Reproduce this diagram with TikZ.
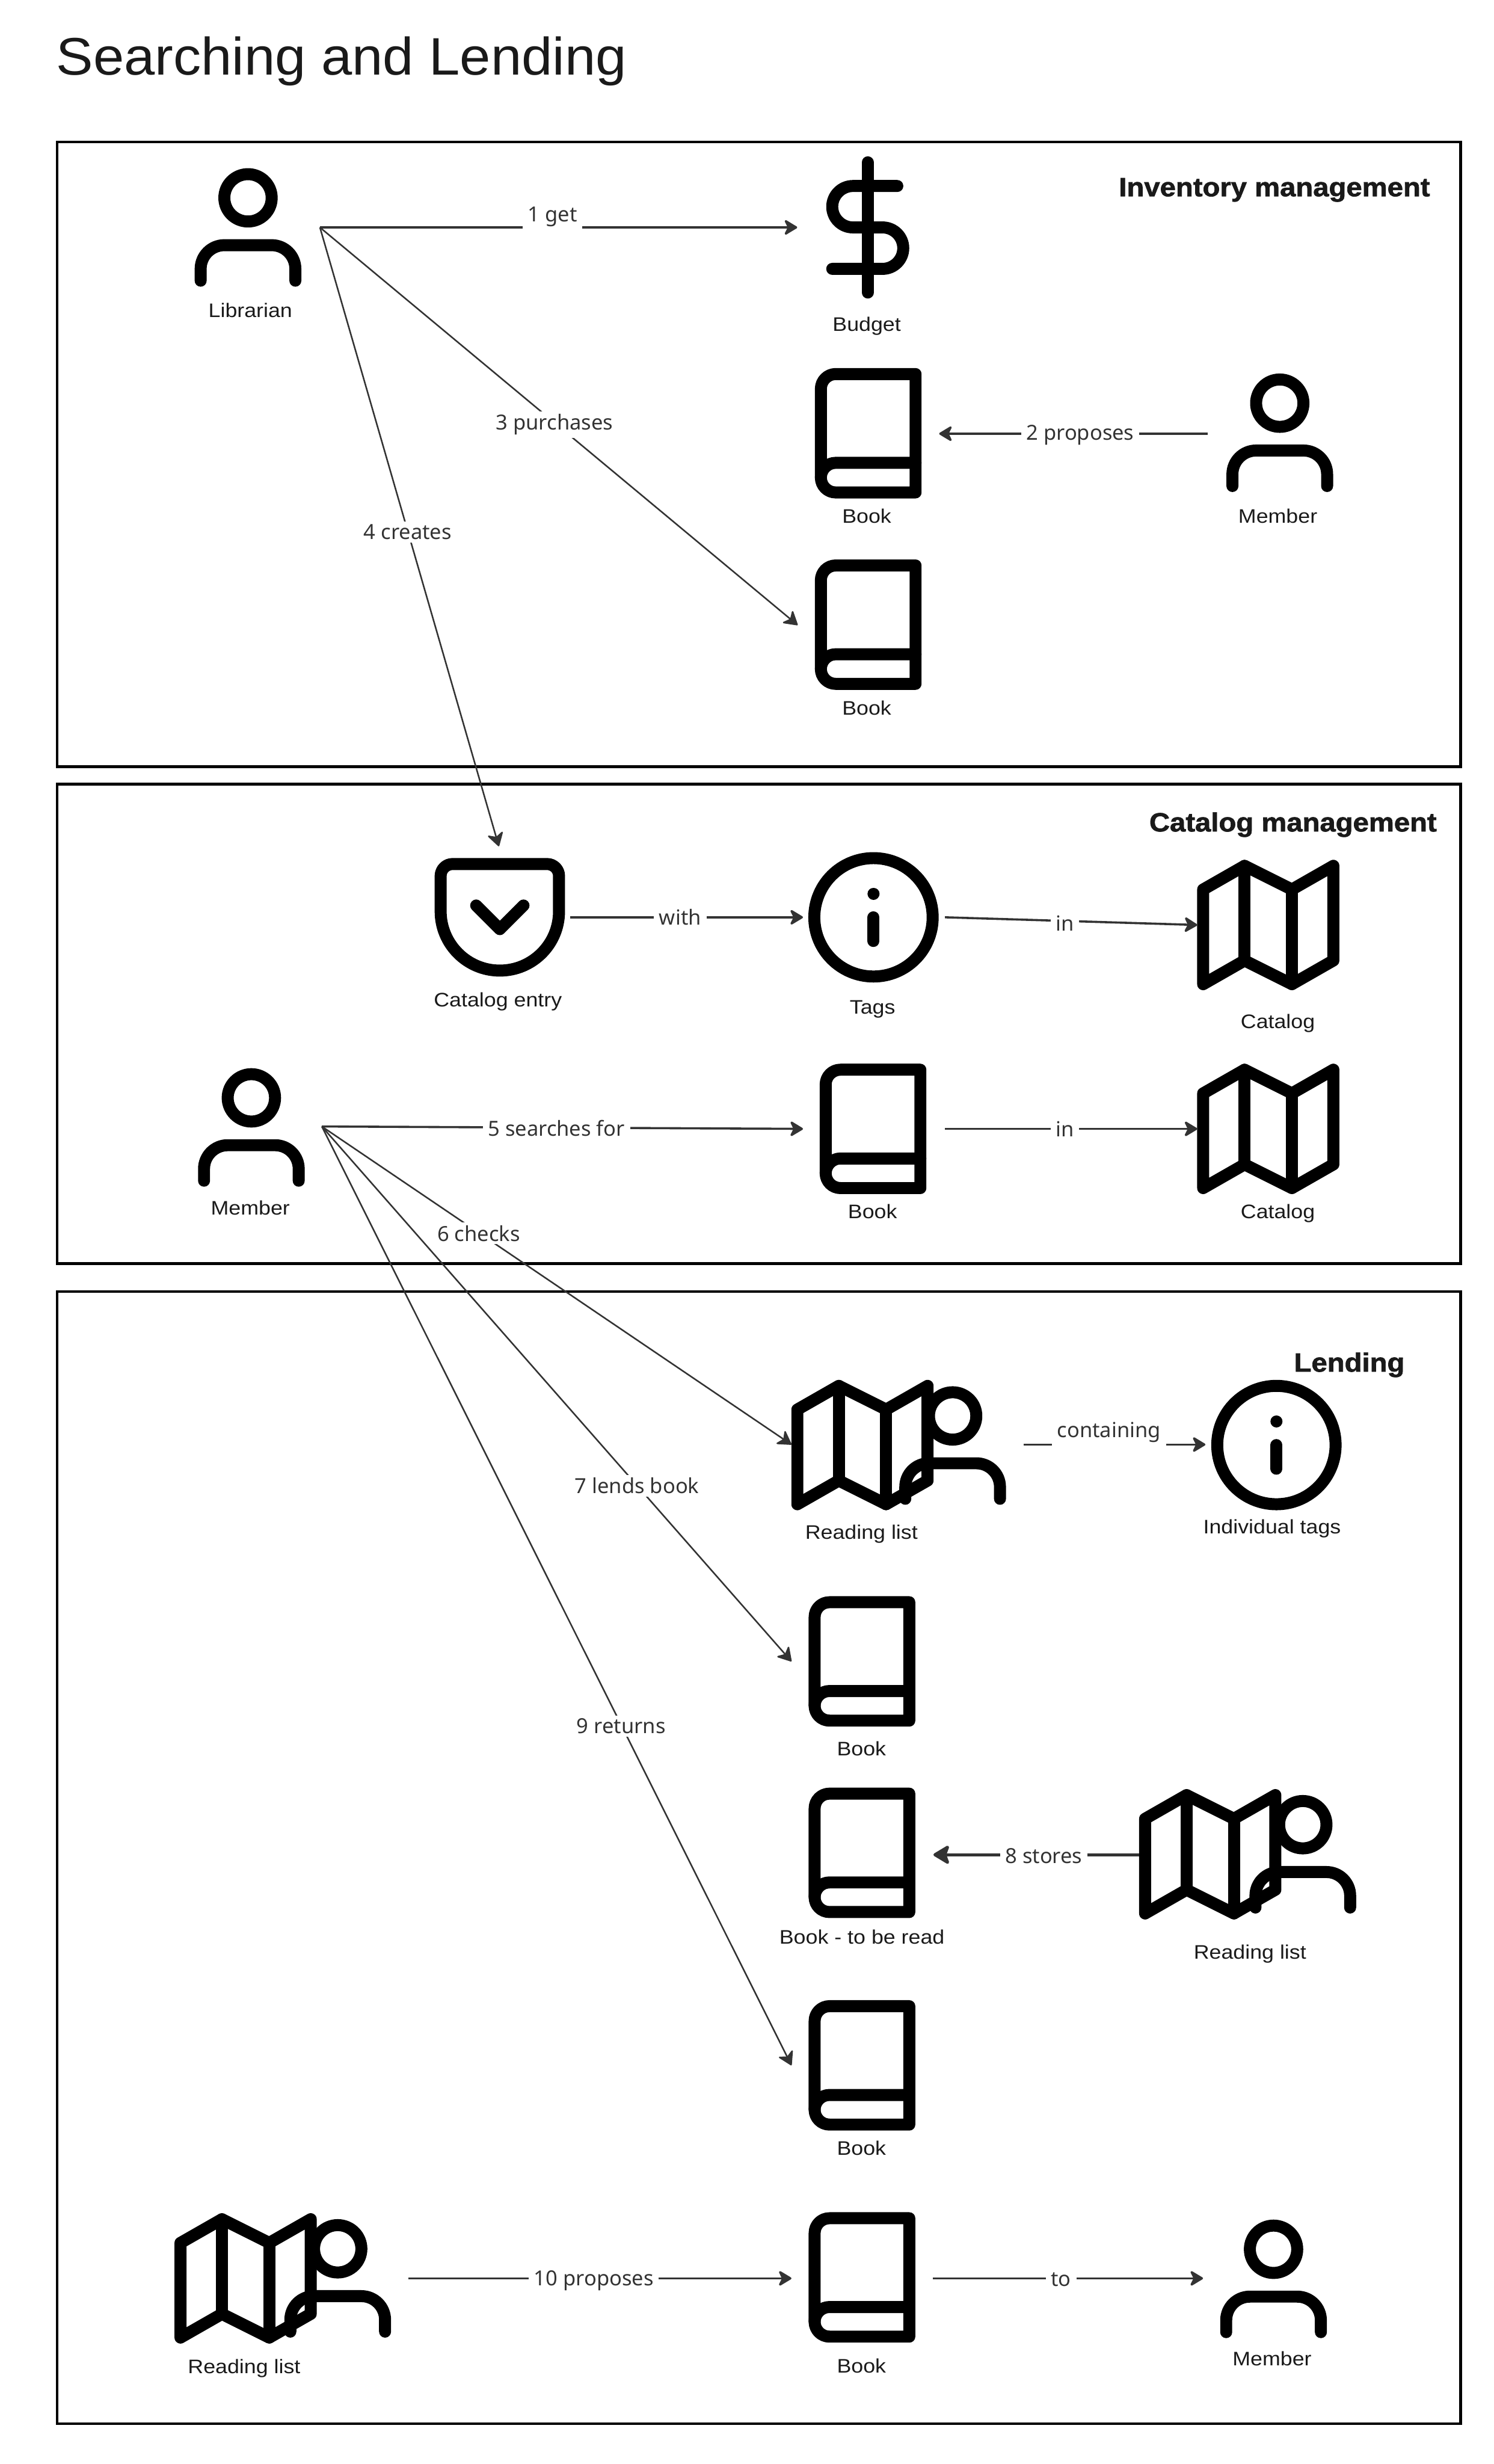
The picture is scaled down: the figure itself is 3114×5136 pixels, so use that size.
\documentclass[tikz,border=0pt]{standalone}
\usepackage{fontspec}
\usetikzlibrary{arrows.meta}
\newfontfamily\nodefont[FakeStretch=1.1]{Liberation Sans}
\newfontfamily\edgefont{Noto Sans}
\newfontfamily\titlefont[FakeStretch=1.05]{Liberation Sans}
\newfontfamily\groupfont[FakeStretch=1.08,FakeBold=1.6]{Liberation Sans Bold}
\definecolor{ink}{HTML}{000000}
\definecolor{txt}{HTML}{1A1A1A}
\definecolor{edgeink}{HTML}{333333}
\tikzset{
  x=0.01cm,y=-0.01cm,
  frame/.style={draw=ink,line width=0.06cm},
  nodelbl/.style={font=\nodefont\fontsize{11.6pt}{13pt}\selectfont,text=txt,inner sep=0pt,anchor=base},
  grouplbl/.style={font=\groupfont\fontsize{15.6pt}{18pt}\selectfont,text=txt,inner sep=0pt,anchor=base east},
  conn/.style={draw=edgeink,line width=0.045cm,-{Stealth[length=0.31cm,width=0.37cm,inset=0.09cm,round]}},
  thinconn/.style={conn,line width=0.032cm},
  thickconn/.style={draw=edgeink,line width=0.063cm,-{Stealth[length=0.38cm,width=0.45cm,inset=0.08cm,round]}},
  lbl/.style={font=\edgefont\fontsize{12.3pt}{14pt}\selectfont,text=edgeink,fill=white,inner xsep=0.11cm,inner ysep=0.06cm},
  lifted/.style={lbl,inner ysep=0.14cm},
  ic/.style={draw=ink,line width=0.25cm,line cap=round,line join=round,x=0.1233cm,y=-0.1233cm},
  userpic/.pic={
    \path[ic] (20,21)--(20,19) .. controls (20,16.79) and (18.21,15) .. (16,15) -- (8,15) .. controls (5.79,15) and (4,16.79) .. (4,19) -- (4,21);
    \path[ic] (12,7) circle [x radius=4,y radius=4];
  },
  bookpic/.pic={
    \path[ic] (4,19.5) .. controls (4,18.12) and (5.12,17) .. (6.5,17) -- (20,17);
    \path[ic] (6.5,2)--(20,2)--(20,22)--(6.5,22) .. controls (5.12,22) and (4,20.88) .. (4,19.5) -- (4,4.5) .. controls (4,3.12) and (5.12,2) .. (6.5,2) -- cycle;
  },
  dollarpic/.pic={
    \path[ic] (12,1)--(12,23);
    \path[ic] (17,5)--(9.5,5) .. controls (7.57,5) and (6,6.57) .. (6,8.5) .. controls (6,10.43) and (7.57,12) .. (9.5,12) -- (14.5,12) .. controls (16.43,12) and (18,13.57) .. (18,15.5) .. controls (18,17.43) and (16.43,19) .. (14.5,19) -- (6,19);
  },
  infopic/.pic={
    \path[ic] (12,12) circle [x radius=10,y radius=10];
    \path[ic] (12,16)--(12,12);
    \path[ic] (12,8)--(12.01,8);
  },
  pocketpic/.pic={
    \path[ic] (4,3)--(20,3) .. controls (21.1,3) and (22,3.9) .. (22,5) -- (22,11) .. controls (22,16.52) and (17.52,21) .. (12,21) .. controls (6.48,21) and (2,16.52) .. (2,11) -- (2,5) .. controls (2,3.9) and (2.9,3) .. (4,3) -- cycle;
    \path[ic] (8,10)--(12,14)--(16,10);
  },
  mappic/.pic={
    \path[ic] (1,6)--(1,22)--(8,18)--(16,22)--(23,18)--(23,2)--(16,6)--(8,2)--cycle;
    \path[ic] (8,2)--(8,18);
    \path[ic] (16,6)--(16,22);
  },
}
\begin{document}
\begin{tikzpicture}
\useasboundingbox (0,0) rectangle (3114,5136);
\fill[white] (0,0) rectangle (3114,5136);
\node[inner sep=0pt,anchor=base west,text=txt,font=\titlefont\fontsize{31.3pt}{36pt}\selectfont] (title) at (117,156) {Searching and Lending};
% frames
\draw[frame] (119,296) rectangle (3045,1598);
\draw[frame] (119,1634) rectangle (3045,2634);
\draw[frame] (119,2692) rectangle (3045,5052);
\node[grouplbl] (g1) at (2982,409) {Inventory management};
\node[grouplbl] (g2) at (2996,1733) {Catalog management};
\node[grouplbl] (g3) at (2929,2859) {Lending};
% icons
\pic at (369,326) {userpic};
\pic at (1661,326) {dollarpic};
\pic at (1662,755) {bookpic};
\pic at (1662,1154) {bookpic};
\pic at (2520,754) {userpic};
\pic at (894,1764) {pocketpic};
\pic at (1673,1764) {infopic};
\pic at (2496,1780) {mappic};
\pic at (376,2202) {userpic};
\pic at (1672,2205) {bookpic};
\pic at (2496,2205) {mappic};
\pic at (1650,2864) {mappic};
\pic at (1838,2865) {userpic};
\pic at (2513,2864) {infopic};
\pic at (1649,3315) {bookpic};
\pic at (1649,3714) {bookpic};
\pic at (2375,3717) {mappic};
\pic at (2568,3717) {userpic};
\pic at (1649,4157) {bookpic};
\pic at (364,4601) {mappic};
\pic at (556,4601) {userpic};
\pic at (1649,4599) {bookpic};
\pic at (2507,4602) {userpic};
% icon labels
\node[nodelbl] (n1) at (522,661) {Librarian};
\node[nodelbl] (n2) at (1807,690) {Budget};
\node[nodelbl] (n3) at (1807,1090) {Book};
\node[nodelbl] (n4) at (2664,1090) {Member};
\node[nodelbl] (n5) at (1807,1490) {Book};
\node[nodelbl] (n6) at (1038,2098) {Catalog entry};
\node[nodelbl] (n7) at (1819,2114) {Tags};
\node[nodelbl] (n8) at (2664,2143) {Catalog};
\node[nodelbl] (n9) at (522,2532) {Member};
\node[nodelbl] (n10) at (1819,2540) {Book};
\node[nodelbl] (n11) at (2664,2540) {Catalog};
\node[nodelbl] (n12) at (1796,3208) {Reading list};
\node[nodelbl] (n13) at (2652,3197) {Individual tags};
\node[nodelbl] (n14) at (1796,3659) {Book};
\node[nodelbl] (n15) at (1797,4052) {Book - to be read};
\node[nodelbl] (n16) at (2606,4083) {Reading list};
\node[nodelbl] (n17) at (1796,4492) {Book};
\node[nodelbl] (n18) at (509,4947) {Reading list};
\node[nodelbl] (n19) at (1796,4946) {Book};
\node[nodelbl] (n20) at (2652,4931) {Member};
% connector ends
\coordinate (libOut) at (667,474);
\coordinate (budgetIn) at (1662,474);
\coordinate (bookBIn) at (1663,1303);
\coordinate (memberOut) at (2518,904);
\coordinate (bookAIn) at (1958,904);
\coordinate (catIn) at (1040,1764);
\coordinate (catOut) at (1189,1912);
\coordinate (tagsIn) at (1674,1912);
\coordinate (tagsOut) at (1970,1912);
\coordinate (mapAIn) at (2496,1928);
\coordinate (memOut) at (671,2348);
\coordinate (bookCIn) at (1674,2353);
\coordinate (bookCOut) at (1970,2353);
\coordinate (mapBIn) at (2496,2353);
\coordinate (rlIn) at (1650,3011);
\coordinate (bookDIn) at (1650,3463);
\coordinate (bookFIn) at (1650,4305);
\coordinate (rlOut) at (2134,3011);
\coordinate (itagsIn) at (2513,3011);
\coordinate (rlROut) at (2375,3866);
\coordinate (bookEIn) at (1946,3866);
\coordinate (rlBOut) at (852,4749);
\coordinate (bookGIn) at (1650,4749);
\coordinate (bookGOut) at (1945,4749);
\coordinate (memBIn) at (2508,4749);
% connectors
\draw[conn] (libOut) -- (budgetIn);
\draw[thinconn] (libOut) -- (bookBIn);
\draw[thinconn] (libOut) -- (catIn);
\draw[conn] (memberOut) -- (bookAIn);
\draw[conn] (catOut) -- (tagsIn);
\draw[conn] (tagsOut) -- (mapAIn);
\draw[conn] (memOut) -- (bookCIn);
\draw[conn] (bookCOut) -- (mapBIn);
\draw[thinconn] (memOut) -- (rlIn);
\draw[thinconn] (memOut) -- (bookDIn);
\draw[thinconn] (memOut) -- (bookFIn);
\draw[conn] (rlOut) -- (itagsIn);
\draw[thickconn] (rlROut) -- (bookEIn);
\draw[conn] (rlBOut) -- (bookGIn);
\draw[conn] (bookGOut) -- (memBIn);
% connector labels
\node[lifted] (e1) at (1152,452) {1 get};
\node[lbl] (e3) at (1156,885) {3 purchases};
\node[lbl] (e4) at (850,1109) {4 creates};
\node[lbl] (e2) at (2252,907) {2 proposes};
\node[lbl] (e5) at (1418,1912) {with};
\node[lbl] (e6) at (2220,1924) {in};
\node[lbl] (e7) at (1160,2352) {5 searches for};
\node[lbl] (e8) at (2220,2353) {in};
\node[lbl] (e9) at (998,2571) {6 checks};
\node[lbl] (e10) at (1328,3097) {7 lends book};
\node[lbl] (e11) at (1295,3598) {9 returns};
\node[lifted] (e12) at (2312,2986) {containing};
\node[lbl] (e13) at (2176,3868) {8 stores};
\node[lbl] (e14) at (1238,4754) {10 proposes};
\node[lbl] (e15) at (2212,4752) {to};
\end{tikzpicture}
\end{document}
